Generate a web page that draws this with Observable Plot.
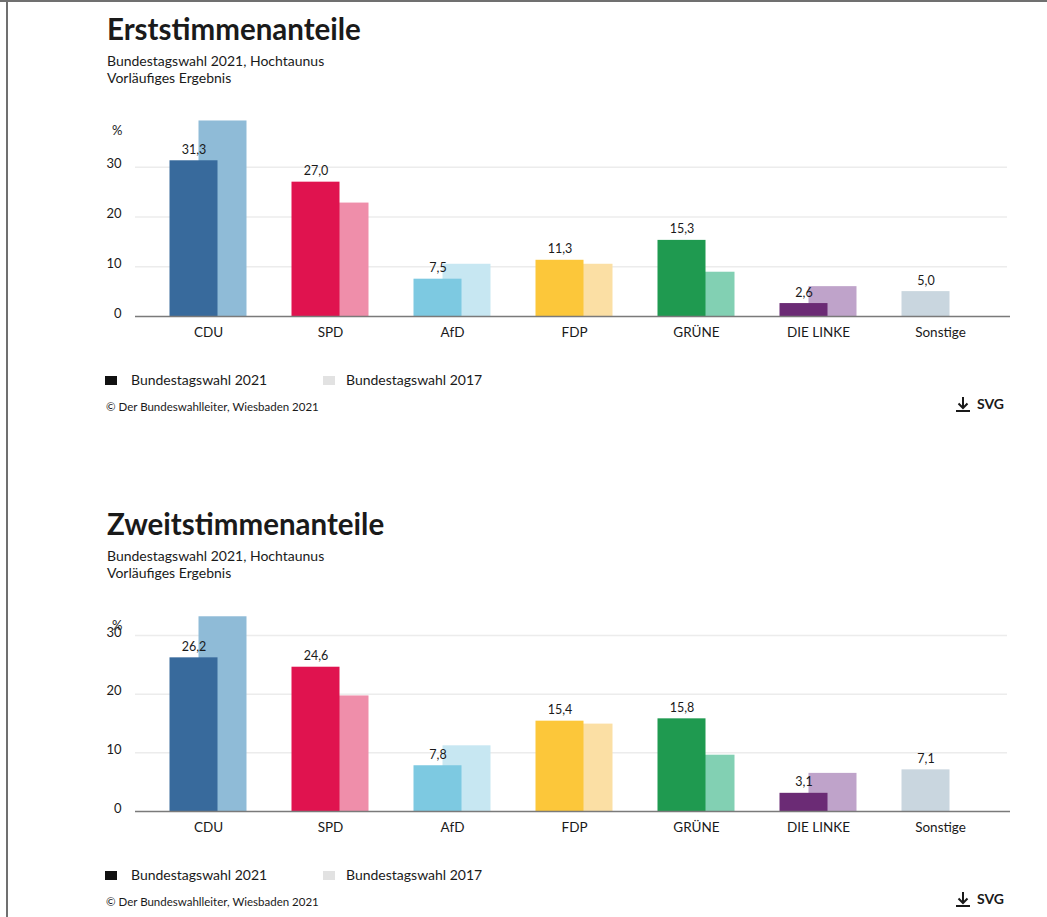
<!DOCTYPE html>
<html lang="de">
<head>
<meta charset="utf-8">
<script src="https://cdn.jsdelivr.net/npm/d3@7"></script>
<script src="https://cdn.jsdelivr.net/npm/@observablehq/plot@0.6"></script>
<style>
  html, body { margin: 0; padding: 0; background: #fff; }
  body { width: 1047px; height: 917px; position: relative; overflow: hidden; font-family: Lato, "Open Sans", sans-serif; color: #1a1a1a; }
  .bt { position: absolute; left: 0; top: 0; width: 1047px; height: 2px; background: #707070; }
  .bl { position: absolute; left: 6px; top: 0; width: 2px; height: 917px; background: #707070; }
  .section { position: absolute; left: 0; width: 1047px; height: 440px; }
  .title { position: absolute; left: 107px; top: 14px; font-size: 29.5px; line-height: 29px; font-weight: 700; white-space: nowrap; }
  .sub { position: absolute; left: 107px; font-size: 14px; line-height: 14px; white-space: nowrap; }
  .chart { position: absolute; left: 0; top: 110px; }
  .sw { position: absolute; width: 12px; height: 9px; }
  .leg { position: absolute; font-size: 14px; line-height: 14px; white-space: nowrap; }
  .copy { position: absolute; left: 106px; top: 401px; font-size: 11.5px; line-height: 12px; white-space: nowrap; }
  .dl { position: absolute; left: 954px; top: 395px; }
  .dltext { position: absolute; left: 977px; top: 397px; font-size: 14px; line-height: 14px; font-weight: 700; }
</style>
</head>
<body>
<div class="bt"></div><div class="bl"></div>
<div id="root"></div>
<script>
// ---- data ----
const parties = ["CDU", "SPD", "AfD", "FDP", "GRÜNE", "DIE LINKE", "Sonstige"];
const erst2021 = [31.3, 27.0, 7.5, 11.3, 15.3, 2.6, 5.0];
const erst2017 = [39.3, 22.8, 10.5, 10.5, 8.9, 6.0, null];
const zweit2021 = [26.2, 24.6, 7.8, 15.4, 15.8, 3.1, 7.1];
const zweit2017 = [33.2, 19.7, 11.2, 14.9, 9.6, 6.5, null];
const colors2021 = ["#386a9c", "#e0134f", "#7dc9e1", "#fcc73a", "#1f9a50", "#6b2b75", "#c9d6df"];
const colors2017 = ["#8fbbd7", "#ef8eaa", "#c7e7f2", "#fbdfa4", "#82d0b3", "#bfa3ca", "#e6e6e6"];
const yTicks = [0, 10, 20, 30];
const seriesNames = ["Bundestagswahl 2021", "Bundestagswahl 2017"];
const legendSwatch = ["#111111", "#e2e2e2"];
const titles = ["Erststimmenanteile", "Zweitstimmenanteile"];
const subtitle1 = "Bundestagswahl 2021, Hochtaunus";
const subtitle2 = "Vorläufiges Ergebnis";
const copyright = "© Der Bundeswahlleiter, Wiesbaden 2021";

const fmt = v => v.toFixed(1).replace(".", ",");

function makeChart(v21, v17, yMax) {
  const rows21 = parties.map((p, i) => ({party: p, value: v21[i], color: colors2021[i], label: fmt(v21[i])}));
  const rows17 = parties.map((p, i) => ({party: p, value: v17[i], color: colors2017[i]})).filter(d => d.value != null);
  return Plot.plot({
    width: 1047,
    height: 240,
    marginTop: 6,
    marginBottom: 34,
    marginLeft: 147,
    marginRight: 46,
    style: {fontFamily: "Lato, 'Open Sans', sans-serif", fontSize: "13px", color: "#1a1a1a", background: "transparent", overflow: "visible"},
    x: {domain: parties, padding: 0, label: null},
    y: {domain: [0, yMax], label: null},
    color: {type: "identity"},
    marks: [
      Plot.ruleY(yTicks.filter(t => t > 0), {stroke: "#ececec", strokeWidth: 1.5, insetLeft: -12, insetRight: -6}),
      Plot.barY(rows17, {x: "party", y: "value", fill: "color", insetLeft: 37, insetRight: 37, dx: 14.5}),
      Plot.barY(rows21, {x: "party", y: "value", fill: "color", insetLeft: 37, insetRight: 37, dx: -14.5}),
      Plot.ruleY([0], {stroke: "#7a7a7a", strokeWidth: 1.5, insetLeft: -12, insetRight: -9}),
      Plot.text(rows21, {x: "party", y: "value", text: "label", dx: -14.5, dy: -11, fontSize: 12.5, fill: "#1a1a1a"}),
      Plot.axisX({tickSize: 0, tickPadding: 11, fontSize: 13.5, label: null}),
      Plot.axisY({ticks: yTicks, tickSize: 0, tickPadding: 26, tickFormat: d => String(d), fontSize: 13, dy: -3, label: null}),
      Plot.text(["%"], {frameAnchor: "top-left", dx: -25, dy: 9, textAnchor: "end", fontSize: 13, fill: "#1a1a1a"})
    ]
  });
}

function makeSection(idx, top, v21, v17, yMax) {
  const sec = document.createElement("div");
  sec.className = "section";
  sec.style.top = top + "px";
  sec.innerHTML = `
    <div class="title">${titles[idx]}</div>
    <div class="sub" style="top:54px">${subtitle1}</div>
    <div class="sub" style="top:71px">${subtitle2}</div>
    <div class="sw" style="left:105px;top:376px;background:${legendSwatch[0]}"></div>
    <div class="leg" style="left:131px;top:373px">${seriesNames[0]}</div>
    <div class="sw" style="left:323px;top:376px;background:${legendSwatch[1]}"></div>
    <div class="leg" style="left:346px;top:373px">${seriesNames[1]}</div>
    <div class="copy">${copyright}</div>
    <svg class="dl" width="18" height="18" viewBox="0 0 18 18">
      <path d="M9 2 V13 M4.5 8.5 L9 13 L13.5 8.5 M2 16 H16" fill="none" stroke="#1a1a1a" stroke-width="2"/>
    </svg>
    <div class="dltext">SVG</div>`;
  const chartDiv = document.createElement("div");
  chartDiv.className = "chart";
  chartDiv.appendChild(makeChart(v21, v17, yMax));
  sec.appendChild(chartDiv);
  document.getElementById("root").appendChild(sec);
}

makeSection(0, 0, erst2021, erst2017, 40.2);
makeSection(1, 495, zweit2021, zweit2017, 34.1);
</script>
</body>
</html>
